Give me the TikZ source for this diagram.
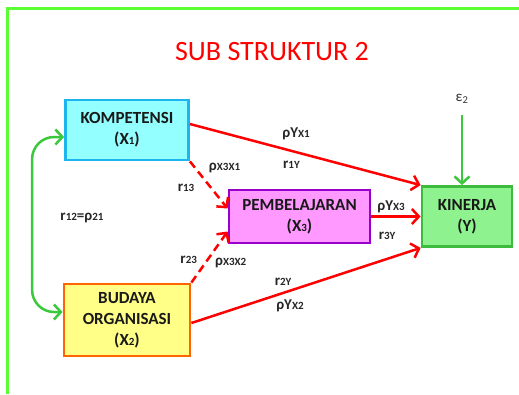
\documentclass[tikz,border=0pt]{standalone}
\usepackage{fontspec}
\setmainfont{Carlito}
\usetikzlibrary{arrows.meta}

\definecolor{komfill}{HTML}{93FFFF}
\definecolor{komline}{HTML}{1CB5EE}
\definecolor{pebfill}{HTML}{FF99FF}
\definecolor{pebline}{HTML}{9900CC}
\definecolor{kinfill}{HTML}{8EF28E}
\definecolor{kinline}{HTML}{3CBB3C}
\definecolor{budfill}{HTML}{FFFF88}
\definecolor{budline}{HTML}{FF6600}
\definecolor{framegreen}{HTML}{5CFF33}
\definecolor{arrgreen}{HTML}{3CC83C}

\newcommand{\sm}[1]{{\fontsize{11}{12}\selectfont #1}}

\tikzset{
  box/.style={draw, line width=2.8pt, align=center, inner sep=2pt,
              font=\bfseries\fontsize{17}{21}\selectfont, text=black!90},
  lbl/.style={font=\bfseries\fontsize{15}{17}\selectfont, text=black!85},
  redarr/.style={draw=red, line width=2.5pt, ->},
  reddash/.style={redarr, dash pattern=on 8pt off 5pt},
  greenarr/.style={draw=arrgreen, line width=2.5pt},
  frameline/.style={draw=framegreen, line width=3pt}
}

\begin{document}
\begin{tikzpicture}[x=1pt,
            y=-1pt,
            >={Straight Barb[length=7pt,width=15pt]},
            node distance=190pt]

        \useasboundingbox (0,0) rectangle (519,394);
        \draw[frameline] (7,394) -- (7,8) -- (519,8);

        \node[text=red, font=\fontsize{28}{30}\selectfont] (title) at (272,52) {SUB STRUKTUR 2};

        \node[box, fill=komfill, draw=komline, minimum width=123pt, minimum height=60pt]
              (kom) at (127,130) {KOMPETENSI\\(X\sm{1})};
        \node[box, fill=budfill, draw=budline, minimum width=126pt, minimum height=72pt]
              (bud) [below of=kom] {BUDAYA\\ORGANISASI\\(X\sm{2})};
        \node[box, fill=pebfill, draw=pebline, minimum width=141pt, minimum height=53pt]
              (peb) at (299.5,216.5) {PEMBELAJARAN\\(X\sm{3})};
        \node[box, fill=kinfill, draw=kinline, minimum width=90pt, minimum height=60pt]
              (kin) [right of=peb, node distance=167.5pt] {KINERJA\\(Y)};
        \node[text=black!80, font=\fontsize{15}{17}\selectfont]
              (eps) at (462,99) {ε\textsubscript{2}};

        % correlation between the exogenous variables
        \draw[greenarr, <->, rounded corners=22pt]
              ([yshift=-7pt]kom.west) -- ++(-32pt,0) |- ([yshift=8pt]bud.west);
        \node[lbl] (r12) at (82,218) {r\sm{12}=ρ\sm{21}};

        % paths
        \draw[redarr] ([yshift=6pt]kom.east) -- (kin.north west)
              node[lbl, pos=.46, yshift=18pt] {ρY\sm{X1}}
              node[lbl, pos=.44, yshift=-14pt] {r\sm{1Y}};
        \draw[reddash] (kom.south east) -- ([yshift=8pt]peb.west)
              node[lbl, pos=.15, xshift=29pt] {ρ\sm{X3X1}}
              node[lbl, pos=.56, xshift=-25pt] {r\sm{13}};
        \draw[reddash] (bud.north east) -- ([yshift=-15pt]peb.west)
              node[lbl, pos=.45, xshift=-19pt] {r\sm{23}}
              node[lbl, pos=.45, xshift=23pt, yshift=-3pt] {ρ\sm{X3X2}};
        \draw[redarr] (peb.east) -- (kin.west)
              node[lbl, pos=.4, yshift=10pt] {ρY\sm{X3}}
              node[lbl, pos=.32, yshift=-19pt] {r\sm{3Y}};
        \draw[redarr] ([yshift=-3pt]bud.east) -- (kin.south west)
              node[lbl, pos=.4, yshift=11pt] {r\sm{2Y}}
              node[lbl, pos=.43, yshift=-15pt] {ρY\sm{X2}};

        % residual
        \draw[greenarr, ->, shorten <=8pt] (eps) -- ([xshift=-5pt]kin.north);

\end{tikzpicture}
\end{document}
